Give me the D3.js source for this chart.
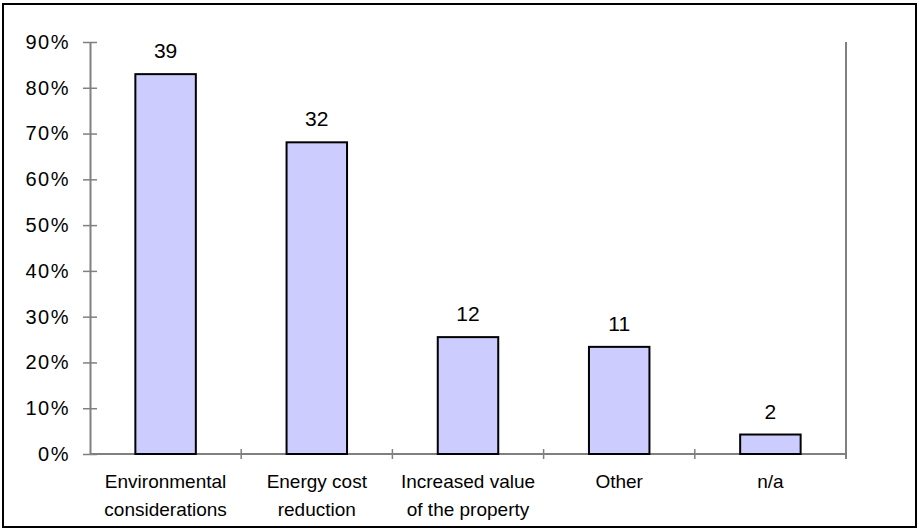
<!DOCTYPE html>
<html>
<head>
<meta charset="utf-8">
<script src="https://cdn.jsdelivr.net/npm/d3@7"></script>
<style>
  html, body { margin: 0; padding: 0; background: #fff; }
  svg { display: block; font-family: "Liberation Sans", Arial, sans-serif; }
</style>
</head>
<body>
<svg id="chart" width="919" height="530"></svg>
<script>
// Reasons given by respondents (counts), shown as share of all respondents
const categories = [
  ["Environmental", "considerations"],
  ["Energy cost", "reduction"],
  ["Increased value", "of the property"],
  ["Other"],
  ["n/a"]
];
const counts = [39, 32, 12, 11, 2];
const totalRespondents = 47;
const yTicks = [0, 0.1, 0.2, 0.3, 0.4, 0.5, 0.6, 0.7, 0.8, 0.9];

const svg = d3.select("#chart");
const W = 919, H = 530;
const plot = { left: 90, right: 846, top: 42, bottom: 454 };

// Outer frame
svg.append("rect")
  .attr("x", 3).attr("y", 4).attr("width", W - 6).attr("height", H - 7)
  .attr("fill", "#fff").attr("stroke", "#000").attr("stroke-width", 2);

const keys = categories.map((c, i) => i);
const x = d3.scaleBand().domain(keys).range([plot.left, plot.right]).padding(0);
const y = d3.scaleLinear().domain([0, 0.9]).range([plot.bottom, plot.top]);

const axisColor = "#808080";

// Right edge of the plot area
svg.append("line")
  .attr("x1", plot.right).attr("x2", plot.right)
  .attr("y1", plot.top).attr("y2", plot.bottom + 5)
  .attr("stroke", axisColor).attr("stroke-width", 2);

// Y axis
const yAxis = svg.append("g")
  .attr("transform", `translate(${plot.left},0)`)
  .call(d3.axisLeft(y).tickValues(yTicks).tickFormat(d3.format(".0%")).tickSizeInner(7).tickSizeOuter(0).tickPadding(13));
yAxis.select(".domain").attr("stroke", axisColor).attr("stroke-width", 2);
yAxis.selectAll(".tick line").attr("stroke", axisColor).attr("stroke-width", 1.5).attr("x2", 7).attr("x1", -7);
yAxis.selectAll(".tick text")
  .attr("fill", "#000").attr("font-size", 20)
  .attr("letter-spacing", 1.5)
  .attr("font-family", "'Liberation Sans', Arial, sans-serif");

// X axis: ticks on band boundaries
const xAxisG = svg.append("g");
xAxisG.append("line")
  .attr("x1", plot.left).attr("x2", plot.right)
  .attr("y1", plot.bottom).attr("y2", plot.bottom)
  .attr("stroke", axisColor).attr("stroke-width", 2);
const boundaries = keys.map(k => x(k)).concat([x(keys[keys.length - 1]) + x.bandwidth()]);
xAxisG.selectAll("line.tick")
  .data(boundaries.slice(1))
  .join("line").attr("class", "tick")
  .attr("x1", d => d).attr("x2", d => d)
  .attr("y1", plot.bottom - 5).attr("y2", plot.bottom + 5)
  .attr("stroke", axisColor).attr("stroke-width", 1.5);

// Category labels
const labels = svg.append("g")
  .attr("font-size", 19).attr("fill", "#000").attr("text-anchor", "middle");
labels.selectAll("text")
  .data(categories)
  .join("text")
  .attr("x", (d, i) => x(i) + x.bandwidth() / 2)
  .attr("y", 488)
  .each(function (lines) {
    d3.select(this).selectAll("tspan")
      .data(lines)
      .join("tspan")
      .attr("x", d3.select(this).attr("x"))
      .attr("dy", (l, j) => j === 0 ? 0 : 28)
      .text(l => l);
  });

// Bars
const barFrac = 0.4;
const shares = counts.map(c => c / totalRespondents);
svg.append("g").selectAll("rect")
  .data(shares)
  .join("rect")
  .attr("x", (d, i) => x(i) + x.bandwidth() * (1 - barFrac) / 2)
  .attr("width", x.bandwidth() * barFrac)
  .attr("y", d => y(d))
  .attr("height", d => y(0) - y(d))
  .attr("fill", "#CCCCFF")
  .attr("stroke", "#000")
  .attr("stroke-width", 2);

// Count labels above bars
svg.append("g")
  .attr("font-size", 21).attr("fill", "#000").attr("text-anchor", "middle")
  .selectAll("text")
  .data(counts)
  .join("text")
  .attr("x", (d, i) => x(i) + x.bandwidth() / 2)
  .attr("y", d => y(d / totalRespondents) - 16)
  .text(d => d);
</script>
</body>
</html>
